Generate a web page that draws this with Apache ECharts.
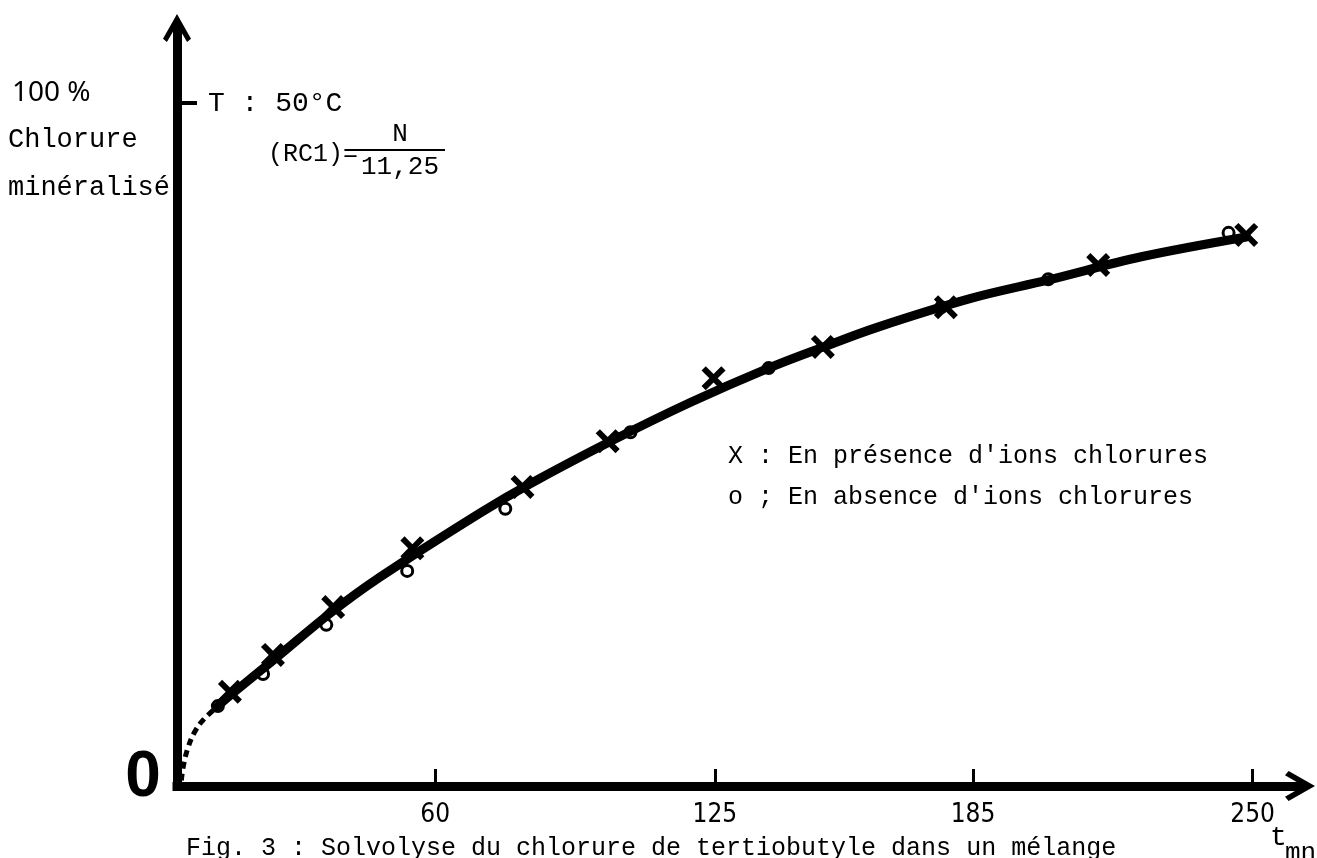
<!DOCTYPE html>
<html>
<head>
<meta charset="utf-8">
<script src="https://cdn.jsdelivr.net/npm/echarts@6/dist/echarts.min.js"></script>
<style>
html, body { margin: 0; padding: 0; background: #fff; }
#chart { width: 1317px; height: 858px; }
</style>
</head>
<body>
<div id="chart"></div>
<script>
// axe des temps (mn)
const timeTicks = [60, 125, 185, 250];
const percentTicks = [100];

// X : en présence d'ions chlorures
const presenceT = [12.3, 22.3, 36.3, 54.7, 80.3, 100.1, 124.7, 150.1, 178.7, 214.1, 248.5];
const presenceY = [13.8, 19.2, 26.2, 34.8, 43.8, 50.5, 59.7, 64.3, 70.1, 76.3, 80.7];

// o : en absence d'ions chlorures
const absenceT = [9.5, 20.0, 34.7, 53.5, 76.3, 105.4, 137.5, 177.6, 202.5, 244.4];
const absenceY = [11.7, 16.4, 23.6, 31.5, 40.6, 51.8, 61.2, 70.1, 74.2, 81.0];

// courbe tracée (partie pointillée au départ)
const dashT = [1.0, 1.5, 2.5, 4.0, 6.0, 9.3];
const dashY = [0.8, 3.0, 5.5, 7.8, 9.6, 11.6];
const curveT = [9.3, 13.0, 23.3, 35.6, 47.2, 70.5, 82.2, 101.5, 119.4, 137.5, 150.3, 162.9, 184.5, 202.5, 224.1, 248.5];
const curveY = [11.6, 13.6, 18.9, 25.3, 30.6, 40.0, 44.3, 50.7, 56.2, 61.2, 64.3, 67.2, 71.4, 74.1, 77.5, 80.4];

const pairs = (xs, ys) => xs.map((x, i) => [x, ys[i]]);

const MONO = '"Liberation Mono", "DejaVu Sans Mono", monospace';
const NUM = '"DejaVu Sans Condensed", "Noto Sans", sans-serif';
const ARROW = 'path://M50,0 L100,88 L86,100 L50,38 L14,100 L0,88 Z';
const CROSS = 'path://M3.5,0L10,6.5L16.5,0L20,3.5L13.5,10L20,16.5L16.5,20L10,13.5L3.5,20L0,16.5L6.5,10L0,3.5Z';

const chart = echarts.init(document.getElementById('chart'));
chart.setOption({
  backgroundColor: '#fff',
  animation: false,
  grid: { left: 177, right: 17, top: 28, bottom: 72 },
  xAxis: {
    type: 'value',
    min: 0,
    max: 261,
    axisLine: {
      lineStyle: { color: '#000', width: 9, cap: 'square' },
      symbol: ['none', ARROW],
      symbolSize: [30, 38]
    },
    axisTick: {
      show: true,
      inside: true,
      length: 17,
      customValues: timeTicks,
      lineStyle: { color: '#000', width: 3 }
    },
    axisLabel: {
      customValues: timeTicks,
      margin: 16,
      fontSize: 26,
      fontFamily: NUM,
      color: '#000'
    },
    splitLine: { show: false }
  },
  yAxis: {
    type: 'value',
    min: 0,
    max: 111,
    axisLine: {
      show: true,
      lineStyle: { color: '#000', width: 9, cap: 'square' },
      symbol: ['none', ARROW],
      symbolSize: [28, 38]
    },
    axisTick: {
      show: true,
      inside: true,
      length: 20,
      customValues: percentTicks,
      lineStyle: { color: '#000', width: 4 }
    },
    axisLabel: { show: false },
    splitLine: { show: false }
  },
  series: [
    {
      type: 'scatter',
      name: 'absence',
      z: 1,
      symbol: 'circle',
      symbolSize: 11,
      itemStyle: { color: '#fff', borderColor: '#000', borderWidth: 3, opacity: 1 },
      data: pairs(absenceT, absenceY)
    },
    {
      type: 'line',
      z: 2,
      showSymbol: false,
      smooth: 0.4,
      lineStyle: { color: '#000', width: 5, type: [7, 5] },
      data: pairs(dashT, dashY)
    },
    {
      type: 'line',
      z: 2,
      showSymbol: false,
      smooth: 0.35,
      lineStyle: { color: '#000', width: 9, cap: 'round' },
      data: pairs(curveT, curveY)
    },
    {
      type: 'scatter',
      name: 'presence',
      z: 3,
      symbol: CROSS,
      symbolSize: 24,
      itemStyle: { color: '#000', opacity: 1 },
      data: pairs(presenceT, presenceY)
    }
  ],
  graphic: [
    { type: 'text', x: 143, y: 778, style: { text: '0', font: 'bold 64px "Liberation Sans", sans-serif', fill: '#000', align: 'center', verticalAlign: 'middle' } },
    { type: 'text', x: 12, y: 93, style: { text: '100 %', font: '28px "Noto Sans", sans-serif', fill: '#000', align: 'left', verticalAlign: 'middle' } },
    { type: 'text', x: 8, y: 140, style: { text: 'Chlorure', font: '27px ' + MONO, fill: '#000', align: 'left', verticalAlign: 'middle' } },
    { type: 'text', x: 8, y: 188, style: { text: 'minéralisé', font: '27px ' + MONO, fill: '#000', align: 'left', verticalAlign: 'middle' } },
    { type: 'text', x: 208, y: 104, style: { text: 'T : 50°C', font: '28px ' + MONO, fill: '#000', align: 'left', verticalAlign: 'middle' } },
    { type: 'text', x: 268, y: 154, style: { text: '(RC1)=', font: '25px ' + MONO, fill: '#000', align: 'left', verticalAlign: 'middle' } },
    { type: 'text', x: 400, y: 134, style: { text: 'N', font: '26px ' + MONO, fill: '#000', align: 'center', verticalAlign: 'middle' } },
    { type: 'line', shape: { x1: 355, y1: 150, x2: 445, y2: 150 }, style: { stroke: '#000', lineWidth: 2 } },
    { type: 'text', x: 400, y: 167, style: { text: '11,25', font: '26px ' + MONO, fill: '#000', align: 'center', verticalAlign: 'middle' } },
    { type: 'text', x: 728, y: 456, style: { text: "X : En présence d'ions chlorures", font: '25px ' + MONO, fill: '#000', align: 'left', verticalAlign: 'middle' } },
    { type: 'text', x: 728, y: 497, style: { text: "o ; En absence d'ions chlorures", font: '25px ' + MONO, fill: '#000', align: 'left', verticalAlign: 'middle' } },
    { type: 'text', x: 1270, y: 852, style: { text: 't', font: '28px ' + MONO, fill: '#000', align: 'left', verticalAlign: 'bottom' } },
    { type: 'text', x: 1285, y: 866, style: { text: 'mn', font: '26px ' + MONO, fill: '#000', align: 'left', verticalAlign: 'bottom' } },
    { type: 'text', x: 186, y: 836, style: { text: 'Fig. 3 : Solvolyse du chlorure de tertiobutyle dans un mélange', font: '25px ' + MONO, fill: '#000', align: 'left', verticalAlign: 'top' } }
  ]
});
</script>
</body>
</html>
